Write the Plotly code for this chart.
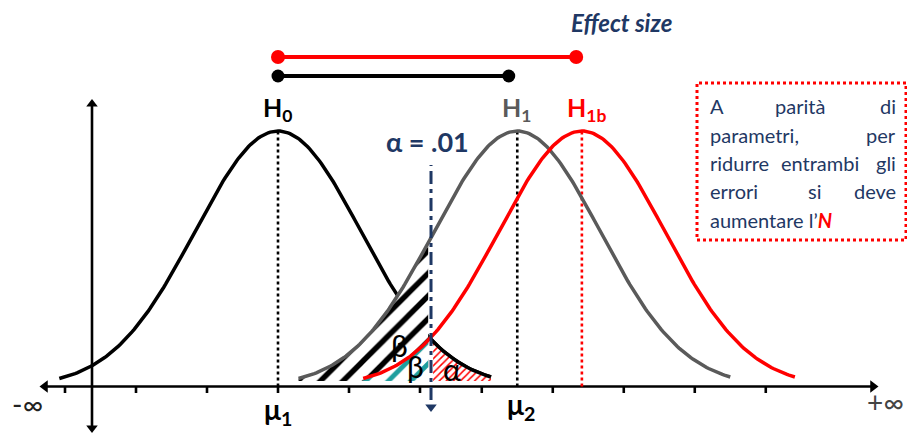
import numpy as np
import plotly.graph_objects as go

# ---------------- data ----------------
hyp_names = ["H0", "H1", "H1b"]
hyp_means = [0.0, 3.37, 4.28]          # mu1, mu2, mu1b (x in tick units)
hyp_sd = [1.17, 1.17, 1.17]
curve_from = [-3.08, -3.08, -3.08]     # where each drawn curve starts (offset from mean)
curve_to = [3.0, 3.0, 3.0]             # where each drawn curve ends (offset from mean)
peak_height = [1.0, 1.0, 1.0]          # relative density at the mean
alpha_crit = 2.155                     # critical value, alpha = .01
x_ticks = [-3, -2, -1, 0, 1, 2, 2.87, 3.87, 4.87, 5.87, 6.87]

# ---------------- geometry helpers ----------------
W, H = 907, 435
X_PX0, X_UNIT = 278.0, 71.0
Y_PX0, Y_UNIT = 386.5, 255.5


def dx(p):
    return (p - X_PX0) / X_UNIT


def dy(p):
    return (Y_PX0 - p) / Y_UNIT


def px(xp, yp):
    return xp / W, 1 - yp / H


NAVY = "#1F3864"
GRAY = "#5A5A5A"
RED = "#FF0000"
TEAL = "#1E9E9E"
FONT = "Lato"


def density(i, xs):
    m, s, h = hyp_means[i], hyp_sd[i], peak_height[i]
    return h * np.exp(-0.5 * ((np.asarray(xs) - m) / s) ** 2)


def curve(i, lo=None, hi=None, n=220):
    a = hyp_means[i] + curve_from[i] if lo is None else lo
    b = hyp_means[i] + curve_to[i] if hi is None else hi
    xs = np.linspace(a, b, n)
    return xs, density(i, xs)


fig = go.Figure()

# ---- axes with arrows ----
fig.add_trace(go.Scatter(x=[dx(46), dx(872)], y=[0, 0], mode="lines",
                         line=dict(color="black", width=2.6), hoverinfo="skip"))
fig.add_trace(go.Scatter(x=[dx(45), dx(873)], y=[0, 0], mode="markers",
                         marker=dict(symbol=["triangle-left", "triangle-right"], size=11,
                                     color="black"), hoverinfo="skip"))
fig.add_trace(go.Scatter(x=[dx(92), dx(92)], y=[dy(105), dy(427)], mode="lines",
                         line=dict(color="black", width=2.6), hoverinfo="skip"))
fig.add_trace(go.Scatter(x=[dx(92), dx(92)], y=[dy(104), dy(428)], mode="markers",
                         marker=dict(symbol=["triangle-up", "triangle-down"], size=10,
                                     color="black"), hoverinfo="skip"))
tx, ty = [], []
for t in x_ticks:
    tx += [t, t, None]
    ty += [0, dy(393), None]
fig.add_trace(go.Scatter(x=tx, y=ty, mode="lines", line=dict(color="black", width=2.6),
                         hoverinfo="skip"))

# ---- dotted lines at the means ----
mean_line_colors = ["black", "black", RED]
for i in range(3):
    fig.add_trace(go.Scatter(x=[hyp_means[i], hyp_means[i]], y=[0, peak_height[i]],
                             mode="lines",
                             line=dict(color=mean_line_colors[i], width=2.6, dash="dot"),
                             hoverinfo="skip"))

# ---- H0 curve (full) ----
x0, y0 = curve(0)
fig.add_trace(go.Scatter(x=x0, y=y0, mode="lines", line=dict(color="black", width=3.5),
                         hoverinfo="skip"))

base = dy(381)


def hatch(xs, ys, color, size, solidity):
    fig.add_trace(go.Scatter(x=list(xs) + [xs[-1], xs[0]], y=list(ys) + [base, base],
                             mode="lines", fill="toself", fillcolor="white",
                             line=dict(width=0, color="rgba(0,0,0,0)"),
                             fillpattern=dict(shape="/", fgcolor=color, bgcolor="white",
                                              fgopacity=1, fillmode="replace",
                                              size=size, solidity=solidity),
                             hoverinfo="skip"))


# beta under H1 (black), beta under H1b (teal), alpha under H0 (red)
bx, by = curve(1, hi=alpha_crit - 0.04)
hatch(bx, by, "black", 16, 0.34)
cx, cy = curve(2, hi=alpha_crit - 0.04)
hatch(cx, cy, TEAL, 16, 0.3)
ax_, ay_ = curve(0, lo=alpha_crit + 0.03)
hatch(ax_, ay_, RED, 5, 0.3)

# ---- H0 right tail redrawn on top ----
rx, ry = curve(0, lo=alpha_crit)
fig.add_trace(go.Scatter(x=rx, y=ry, mode="lines", line=dict(color="black", width=3.5),
                         hoverinfo="skip"))

# ---- H1 and H1b curves ----
x1, y1 = curve(1)
fig.add_trace(go.Scatter(x=x1, y=y1, mode="lines", line=dict(color=GRAY, width=3.5),
                         hoverinfo="skip"))
x2, y2 = curve(2)
fig.add_trace(go.Scatter(x=x2, y=y2, mode="lines", line=dict(color=RED, width=3.5),
                         hoverinfo="skip"))

# ---- critical value line ----
fig.add_trace(go.Scatter(x=[alpha_crit, alpha_crit], y=[dy(400), dy(165)], mode="lines",
                         line=dict(color=NAVY, width=3, dash="13px,5px,4px,5px"),
                         hoverinfo="skip"))
fig.add_trace(go.Scatter(x=[alpha_crit], y=[dy(407)], mode="markers",
                         marker=dict(symbol="triangle-down", size=10, color=NAVY),
                         hoverinfo="skip"))

# ---- effect size bars ----
fig.add_trace(go.Scatter(x=[hyp_means[0], hyp_means[2] - 0.08], y=[dy(57), dy(57)],
                         mode="lines+markers", line=dict(color=RED, width=4),
                         marker=dict(size=14, color=RED), hoverinfo="skip"))
fig.add_trace(go.Scatter(x=[hyp_means[0], hyp_means[1] - 0.12], y=[dy(76), dy(76)],
                         mode="lines+markers", line=dict(color="black", width=4),
                         marker=dict(size=13, color="black"), hoverinfo="skip"))

# ---- text ----
ann = []


def text(xp, yp, s, size, color="black", xanchor="center", yanchor="middle"):
    x, y = px(xp, yp)
    ann.append(dict(x=x, y=y, xref="paper", yref="paper", text=s, showarrow=False,
                    xanchor=xanchor, yanchor=yanchor,
                    font=dict(family=FONT, size=size, color=color)))


text(621, 23, "<b><i>Effect size</i></b>", 24, NAVY)
text(277, 109, "<b>H<sub>0</sub></b>", 25, "black")
text(516, 109, "<b>H<sub>1</sub></b>", 25, GRAY)
text(586, 109, "<b>H<sub>1b</sub></b>", 25, RED)
text(427, 141, "<b>α = .01</b>", 27, NAVY)
text(278, 411, "<b>μ<sub>1</sub></b>", 28, "black")
text(521, 406, "<b>μ<sub>2</sub></b>", 28, "black")
text(27, 404, "-∞", 28, "#222222")
text(885, 402, "+∞", 28, "#444444")
text(399, 345, "β", 30, "black")
text(415, 366, "β", 30, "black")
text(452, 369, "α", 30, "black")

# justified box text
L, R = 708, 898
FS = 20
text(L, 106, "A", FS, NAVY, "left")
text(800, 106, "parità", FS, NAVY, "center")
text(R, 106, "di", FS, NAVY, "right")
text(L, 134.5, "parametri,", FS, NAVY, "left")
text(R, 134.5, "per", FS, NAVY, "right")
text(L, 163, "ridurre", FS, NAVY, "left")
text(820, 163, "entrambi", FS, NAVY, "center")
text(R, 163, "gli", FS, NAVY, "right")
text(L, 191, "errori", FS, NAVY, "left")
text(814, 191, "si", FS, NAVY, "center")
text(R, 191, "deve", FS, NAVY, "right")
text(L, 219.5, "aumentare l’<b><i><span style='color:#FF0000'>N</span></i></b>", FS, NAVY,
     "left")

# dotted red box
bx0, by0 = px(697, 83)
bx1, by1 = px(906, 240)
shapes = [dict(type="rect", xref="paper", yref="paper", x0=bx0, y0=by1, x1=bx1, y1=by0,
               line=dict(color=RED, width=3, dash="dot"), fillcolor="rgba(0,0,0,0)")]

fig.update_layout(
    width=W, height=H, margin=dict(l=0, r=0, t=0, b=0, pad=0),
    paper_bgcolor="white", plot_bgcolor="white", showlegend=False,
    xaxis=dict(range=[dx(0), dx(W)], visible=False, fixedrange=True),
    yaxis=dict(range=[dy(H), dy(0)], visible=False, fixedrange=True),
    annotations=ann, shapes=shapes,
)

fig.write_html("out.html", config={"displayModeBar": False},
               post_script="document.body.style.margin='0';"
                           "document.body.style.overflow='hidden';")
